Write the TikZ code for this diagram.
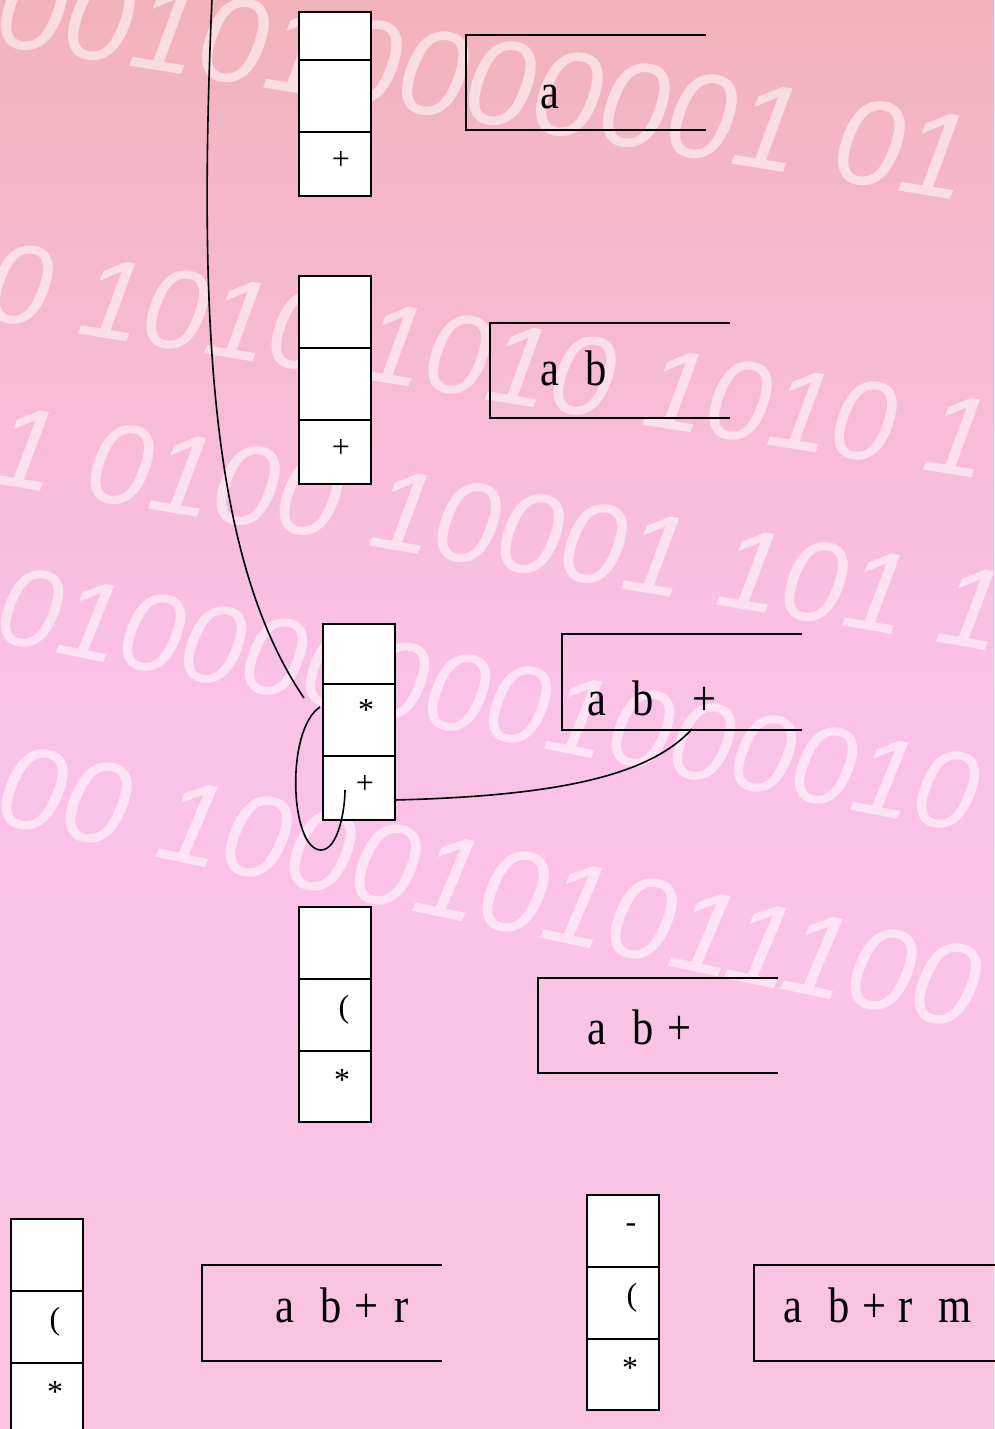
\documentclass[tikz,border=0pt]{standalone}
\usepackage{fontspec}
\setmainfont{Liberation Serif}
\newfontfamily\digitfont{Liberation Sans}
\begin{document}
\begin{tikzpicture}[x=1pt,y=-1pt,
  cell/.style={draw=black,line width=2pt,fill=white,minimum width=72pt,inner sep=0pt,anchor=north west},
  sym/.style={font=\fontsize{32}{34}\selectfont,inner sep=0pt},
  big/.style={font=\fontsize{50}{54}\selectfont,inner sep=0pt,xscale=0.85,anchor=base west},
  openbox/.style={line width=2pt},
  curve/.style={line width=1.6pt},
  bgdig/.style={font=\digitfont\itshape\fontsize{112}{112}\selectfont,text=white,text opacity=0.55,anchor=base west,inner sep=0pt}]
\useasboundingbox (0,0) rectangle (994,1429);
\shade[top color={rgb,255:red,242;green,178;blue,188},bottom color={rgb,255:red,250;green,196;blue,224},middle color={rgb,255:red,251;green,194;blue,232}] (0,0) rectangle (994,1429);
% background digits
\node[bgdig,rotate=-9.2,font=\digitfont\itshape\fontsize{122}{122}\selectfont] (dA) at (-8,44) {001010000001 01};
\node[bgdig,rotate=-9.2,font=\digitfont\itshape\fontsize{114}{114}\selectfont] (dB) at (-18,318) {0 1010 1010 1010 1};
\node[bgdig,rotate=-9.6,font=\digitfont\itshape\fontsize{115}{115}\selectfont] (dC) at (-12,482) {1 0100 10001 101 1};
\node[bgdig,rotate=-11.2] (dD) at (-8,640) {0100000001000010};
\node[bgdig,rotate=-12,font=\digitfont\itshape\fontsize{118}{118}\selectfont] (dE) at (-8,822) {00 1000101011100};
% stack 1
\node[cell,minimum height=48pt] (s1a) at (298,11) {};
\node[cell,minimum height=72pt] (s1b) at (298,59) {};
\node[cell,minimum height=64pt] (s1c) at (298,131) {};
\node[sym] (t1c) at (341,160) {+};
% box 1
\draw[openbox] (706,35) -- (466,35) -- (466,130) -- (706,130);
\node[big] (b1) at (540.5,108) {a};
% stack 2
\node[cell,minimum height=72pt] (s2a) at (298,275) {};
\node[cell,minimum height=72pt] (s2b) at (298,347) {};
\node[cell,minimum height=64pt] (s2c) at (298,419) {};
\node[sym] (t2c) at (341,448) {+};
% box 2
\draw[openbox] (730,323) -- (490,323) -- (490,418) -- (730,418);
\node[big] (b2) at (540.5,385) {a\hspace{30pt}b};
% stack 3
\node[cell,minimum height=60pt] (s3a) at (322,623) {};
\node[cell,minimum height=72pt] (s3b) at (322,683) {};
\node[cell,minimum height=64pt] (s3c) at (322,755) {};
\node[sym] (t3b) at (366,710) {*};
\node[sym] (t3c) at (365,784) {+};
% box 3
\draw[openbox] (802,634) -- (562,634) -- (562,730) -- (802,730);
\node[big] (b3) at (587.5,715) {a\hspace{30.6pt}b\hspace{46pt}+};
% stack 4
\node[cell,minimum height=72pt] (s4a) at (298,906) {};
\node[cell,minimum height=72pt] (s4b) at (298,978) {};
\node[cell,minimum height=71pt] (s4c) at (298,1050) {};
\node[sym] (t4b) at (344,1010) {(};
\node[sym] (t4c) at (342,1080) {*};
% box 4
\draw[openbox] (778,978) -- (538,978) -- (538,1073) -- (778,1073);
\node[big] (b4) at (587.5,1044) {a\hspace{30.6pt}b\hspace{15.8pt}+};
% stack 5
\node[cell,minimum height=72pt] (s5a) at (10,1218) {};
\node[cell,minimum height=72pt] (s5b) at (10,1290) {};
\node[cell,minimum height=72pt] (s5c) at (10,1362) {};
\node[sym] (t5b) at (55,1322) {(};
\node[sym] (t5c) at (55,1392) {*};
% box 5
\draw[openbox] (442,1265) -- (202,1265) -- (202,1361) -- (442,1361);
\node[big] (b5) at (275.5,1322) {a\hspace{30.6pt}b\hspace{14.6pt}+\hspace{18.8pt}r};
% stack 6
\node[cell,minimum height=72pt] (s6a) at (586,1194) {};
\node[cell,minimum height=72pt] (s6b) at (586,1266) {};
\node[cell,minimum height=71pt] (s6c) at (586,1338) {};
\node[sym] (t6a) at (631,1228) {-};
\node[sym] (t6b) at (632,1298) {(};
\node[sym] (t6c) at (630,1368) {*};
% box 6
\draw[openbox] (996,1265) -- (754,1265) -- (754,1361) -- (996,1361);
\node[big] (b6) at (783.5,1322) {a\hspace{30.6pt}b\hspace{14.6pt}+\hspace{14pt}r\hspace{31pt}m};
% curves
\coordinate (ctop) at (212,-2);
\coordinate (cend) at (304,698);
\draw[curve] (ctop) .. controls (198,320) and (210,560) .. (cend);
\coordinate (lstart) at (320,707);
\coordinate (lend) at (345,790);
\draw[curve] (lstart) .. controls (285,730) and (290,850) .. (321,850) .. controls (338,850) and (345,810) .. (lend);
\coordinate (rstart) at (394,800);
\coordinate (rend) at (692,729);
\draw[curve] (rstart) .. controls (560,796) and (650,775) .. (rend);
\end{tikzpicture}
\end{document}
